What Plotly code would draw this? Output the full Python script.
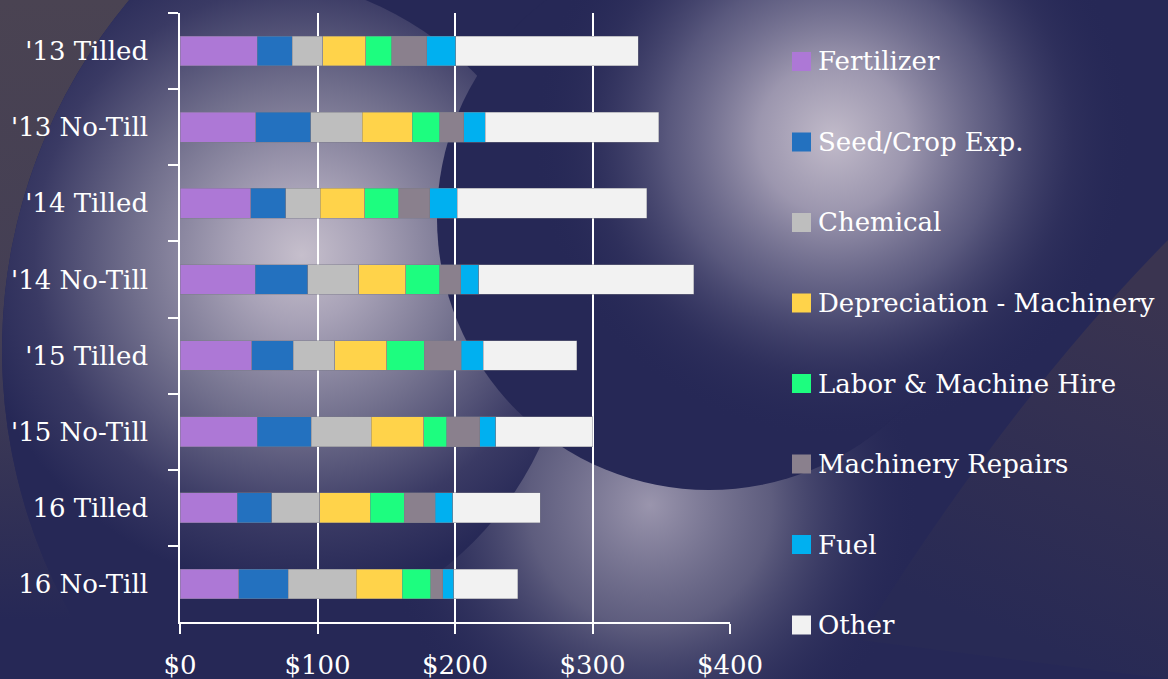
import base64
import plotly.graph_objects as go

# ---------------- data ----------------
categories = ["'13 Tilled", "'13 No-Till", "'14 Tilled", "'14 No-Till",
              "'15 Tilled", "'15 No-Till", "16 Tilled", "16 No-Till"]

series_names = ["Fertilizer", "Seed/Crop Exp.", "Chemical", "Depreciation - Machinery",
                "Labor & Machine Hire", "Machinery Repairs", "Fuel", "Other"]

fertilizer   = [56.0, 55.2, 51.5, 54.8, 52.3, 56.2, 41.6, 42.6]
seed_crop    = [25.7, 40.0, 25.3, 38.0, 30.0, 39.2, 25.2, 36.1]
chemical     = [22.1, 37.5, 25.3, 37.3, 30.1, 43.6, 34.7, 49.4]
depreciation = [31.4, 36.1, 32.2, 34.0, 37.8, 38.3, 36.8, 33.4]
labor        = [18.9, 20.1, 24.8, 24.8, 27.3, 16.7, 24.9, 20.8]
repairs      = [25.4, 17.4, 22.7, 15.2, 27.1, 23.9, 22.5, 8.8]
fuel         = [20.9, 15.8, 19.8, 13.3, 16.0, 11.9, 12.6, 8.0]
other        = [132.9, 125.9, 137.9, 156.1, 67.8, 70.2, 63.7, 46.7]

x_tickvals = [0, 100, 200, 300, 400]
x_ticktext = ["$0", "$100", "$200", "$300", "$400"]

# ---------------- style ----------------
colors = ["#ad78d6", "#2371bf", "#bebebe", "#ffd34a",
          "#1dfd7f", "#8a808d", "#00b0f0", "#f2f2f2"]
series_values = [fertilizer, seed_crop, chemical, depreciation, labor, repairs, fuel, other]

FONT = "DejaVu Serif"
FS = 26
W, H = 1168, 679
ML, MR, MT, MB = 180, 438, 13, 57
PW, PH = W - ML - MR, H - MT - MB


def px2x(px):
    return (px - ML) / PW


def py2y(py):
    return (H - MB - py) / PH


svg = f"""<svg xmlns="http://www.w3.org/2000/svg" width="{W}" height="{H}" viewBox="0 0 {W} {H}">
<defs>
<clipPath id="c1"><circle cx="547" cy="350" r="545"/></clipPath>
<linearGradient id="gl" gradientUnits="userSpaceOnUse" x1="0" y1="0" x2="0" y2="620">
 <stop offset="0" stop-color="#4a4352"/>
 <stop offset="0.55" stop-color="#433e55"/>
 <stop offset="1" stop-color="#262856"/>
</linearGradient>
<radialGradient id="g1" gradientUnits="userSpaceOnUse" cx="302" cy="255" r="335">
 <stop offset="0" stop-color="#c6bfcc"/>
 <stop offset="0.2" stop-color="#a8a2b7"/>
 <stop offset="0.5" stop-color="#72708d"/>
 <stop offset="0.8" stop-color="#3a3a64"/>
 <stop offset="1" stop-color="#262856"/>
</radialGradient>
<radialGradient id="g2" gradientUnits="userSpaceOnUse" cx="833" cy="138" r="300">
 <stop offset="0" stop-color="#c2bbca" stop-opacity="1"/>
 <stop offset="0.25" stop-color="#a29cb3" stop-opacity="0.95"/>
 <stop offset="0.55" stop-color="#6a688a" stop-opacity="0.75"/>
 <stop offset="0.8" stop-color="#3a3a64" stop-opacity="0.4"/>
 <stop offset="1" stop-color="#262856" stop-opacity="0"/>
</radialGradient>
<radialGradient id="g3" gradientUnits="userSpaceOnUse" cx="650" cy="505" r="270">
 <stop offset="0" stop-color="#9a95ad" stop-opacity="1"/>
 <stop offset="0.45" stop-color="#6c6a88" stop-opacity="0.8"/>
 <stop offset="1" stop-color="#262856" stop-opacity="0"/>
</radialGradient>
<linearGradient id="g4" gradientUnits="userSpaceOnUse" x1="1120" y1="280" x2="980" y2="620">
 <stop offset="0" stop-color="#3a3450"/>
 <stop offset="1" stop-color="#282a55"/>
</linearGradient>
</defs>
<rect width="{W}" height="{H}" fill="#262856"/>
<path fill="url(#gl)" d="M0,0 L129.2,0 A545,545 0 0,0 112.5,679 L0,679 Z"/>
<circle cx="650" cy="505" r="270" fill="url(#g3)" clip-path="url(#c1)"/>
<path d="M1168,240 Q1010,400 860,640 L1168,679 Z" fill="url(#g4)"/>
<circle cx="239" cy="307" r="332" fill="url(#g1)" clip-path="url(#c1)"/>
<circle cx="709" cy="218" r="272" fill="#262856"/>
<circle cx="833" cy="138" r="300" fill="url(#g2)"/>
</svg>"""
bg_src = "data:image/svg+xml;base64," + base64.b64encode(svg.encode()).decode()

fig = go.Figure()
for name, vals, col in zip(series_names, series_values, colors):
    fig.add_trace(go.Bar(
        y=categories, x=vals, name=name, orientation="h",
        marker=dict(color=col, line=dict(color="rgba(120,120,135,0.55)", width=0.8)),
        showlegend=False,
    ))

# manual legend built from the series lists
leg_y0, leg_step = 61.5, 80.5
shapes, annotations = [], []
for i, (name, col) in enumerate(zip(series_names, colors)):
    cy = leg_y0 + i * leg_step
    shapes.append(dict(type="rect", xref="paper", yref="paper",
                       x0=px2x(792), x1=px2x(811), y0=py2y(cy + 9.5), y1=py2y(cy - 9.5),
                       fillcolor=col, line=dict(width=0)))
    annotations.append(dict(text=name, xref="paper", yref="paper", x=px2x(816), y=py2y(cy),
                            xanchor="left", yanchor="middle", showarrow=False,
                            font=dict(family=FONT, size=FS, color="#ffffff")))

fig.update_layout(
    width=W, height=H,
    margin=dict(l=ML, r=MR, t=MT, b=MB, pad=0, autoexpand=False),
    barmode="stack", bargap=0.61,
    paper_bgcolor="#262856", plot_bgcolor="rgba(0,0,0,0)",
    font=dict(family=FONT, size=FS, color="#ffffff"),
    shapes=shapes, annotations=annotations,
    images=[dict(source=bg_src, xref="paper", yref="paper",
                 x=px2x(0), y=py2y(0), sizex=W / PW, sizey=H / PH,
                 xanchor="left", yanchor="top", sizing="stretch", layer="below")],
    xaxis=dict(range=[0, 400], tickvals=x_tickvals, ticktext=x_ticktext,
               automargin=False,
               showgrid=True, gridcolor="#ffffff", gridwidth=1.5, zeroline=False,
               showline=True, linecolor="#ffffff", linewidth=1.5,
               ticks="outside", ticklen=10, tickwidth=1.5, tickcolor="#ffffff",
               ticklabelstandoff=9,
               tickfont=dict(family=FONT, size=FS, color="#ffffff")),
    yaxis=dict(autorange="reversed", type="category", tickson="boundaries",
               automargin=False,
               showgrid=False, zeroline=False,
               showline=True, linecolor="#ffffff", linewidth=1.5,
               ticks="outside", ticklen=10, tickwidth=1.5, tickcolor="#ffffff",
               ticklabelstandoff=25,
               tickfont=dict(family=FONT, size=FS, color="#ffffff")),
)

fig.write_html("out.html", config={"displayModeBar": False},
               post_script="document.body.style.margin='0';document.body.style.overflow='hidden';")
